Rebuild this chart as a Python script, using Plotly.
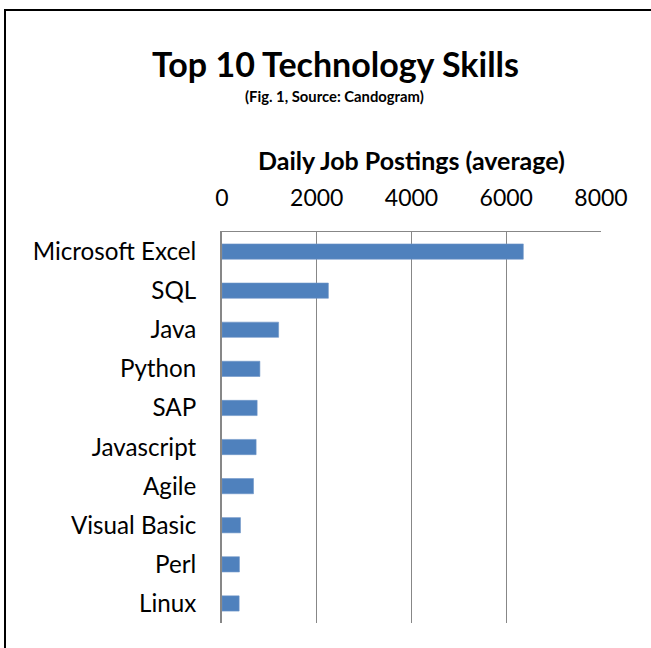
import plotly.graph_objects as go

skills = ["Microsoft Excel", "SQL", "Java", "Python", "SAP", "Javascript",
          "Agile", "Visual Basic", "Perl", "Linux"]
postings = [6360, 2245, 1195, 800, 742, 720, 665, 390, 368, 362]
tick_vals = [0, 2000, 4000, 6000, 8000]
tick_text = ["0", "2000", "4000", "6000", "8000"]

W, H = 651, 648
L, R, T, B = 222, 50, 232, 25
PW, PH = W - L - R, H - T - B

def px_x(px):
    return (px - L) / PW

def px_y(py):
    return (H - B - py) / PH

FONT = "Lato"
fig = go.Figure(go.Bar(
    x=postings, y=skills, orientation="h",
    marker=dict(color="#4F81BD", line=dict(color="#6E96C8", width=0.6)),
    width=0.39,
))

fig.update_layout(
    width=W, height=H,
    margin=dict(l=L, r=R, t=T, b=B),
    paper_bgcolor="white", plot_bgcolor="white",
    font=dict(family=FONT, color="black"),
    showlegend=False,
    xaxis=dict(
        side="top", range=[0, 8000], tickvals=tick_vals, ticktext=tick_text,
        showgrid=True, gridcolor="#878787", gridwidth=1.3,
        showline=True, linecolor="#878787", linewidth=1.3,
        zeroline=False, ticks="outside", ticklen=0,
        ticklabelstandoff=16,
        tickfont=dict(size=23, family=FONT, color="black"),
        fixedrange=True,
    ),
    yaxis=dict(
        autorange="reversed", showgrid=False, zeroline=False,
        showline=True, linecolor="#878787", linewidth=1.8,
        ticks="", ticklabelstandoff=19,
        tickfont=dict(size=24.2, family=FONT, color="black"),
        fixedrange=True,
    ),
    annotations=[
        dict(text="<b>Top 10 Technology Skills</b>", xref="paper", yref="paper",
             x=px_x(335), y=px_y(64), xanchor="center", yanchor="middle",
             showarrow=False, font=dict(size=34, family=FONT, color="black")),
        dict(text="<b>(Fig. 1, Source: Candogram)</b>", xref="paper", yref="paper",
             x=px_x(334), y=px_y(96), xanchor="center", yanchor="middle",
             showarrow=False, font=dict(size=14.8, family=FONT, color="black")),
        dict(text="<b>Daily Job Postings (average)</b>", xref="paper", yref="paper",
             x=px_x(411.5), y=px_y(160), xanchor="center", yanchor="middle",
             showarrow=False, font=dict(size=25, family=FONT, color="black")),
    ],
    shapes=[
        dict(type="line", xref="paper", yref="paper",
             x0=px_x(5), x1=px_x(5), y0=px_y(9), y1=px_y(648),
             line=dict(color="black", width=2)),
        dict(type="line", xref="paper", yref="paper",
             x0=px_x(4), x1=px_x(651), y0=px_y(10), y1=px_y(10),
             line=dict(color="black", width=2)),
    ],
)

fig.write_html("out.html", config={"displayModeBar": False},
               post_script="document.body.style.margin='0';document.body.style.overflow='hidden';")
